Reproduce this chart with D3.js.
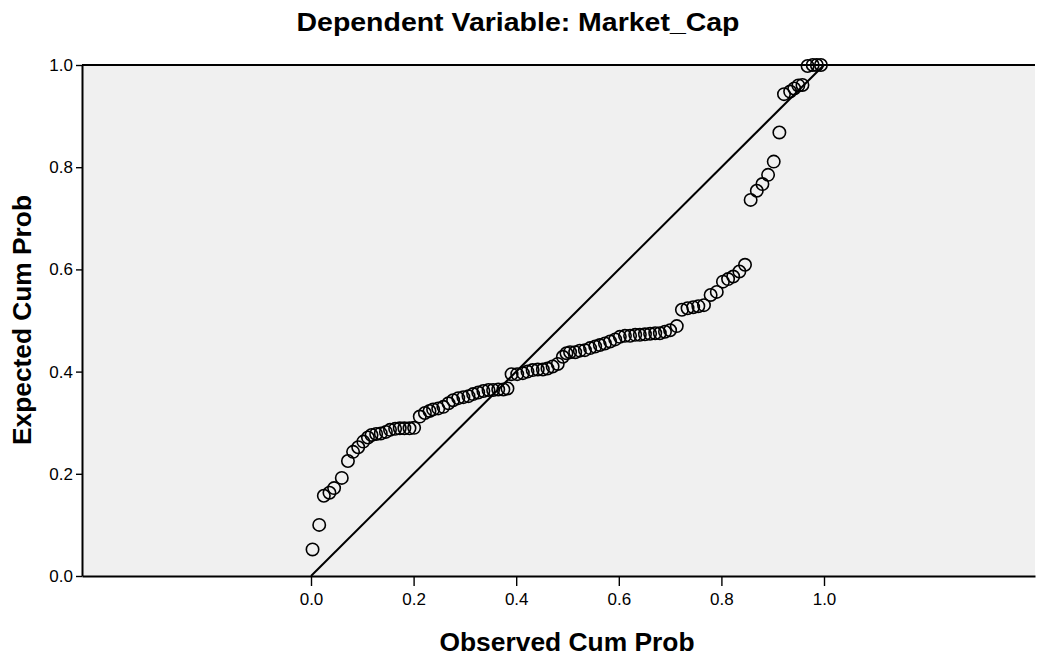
<!DOCTYPE html>
<html>
<head>
<meta charset="utf-8">
<script src="https://cdn.jsdelivr.net/npm/d3@7"></script>
<style>
  html, body { margin: 0; padding: 0; background: #ffffff; }
  svg { display: block; }
  text { font-family: "Liberation Sans", Arial, sans-serif; fill: #000; }
</style>
</head>
<body>
<svg id="chart" width="1043" height="661"></svg>
<script>
// ---- data ----
const titleText = "Dependent Variable: Market_Cap";
const xTitle = "Observed Cum Prob";
const yTitle = "Expected Cum Prob";
const tickValues = [0.0, 0.2, 0.4, 0.6, 0.8, 1.0];

const observedCumProb = [
  0.003, 0.016, 0.025, 0.036, 0.045, 0.060, 0.072, 0.082, 0.092, 0.102,
  0.111, 0.118, 0.127, 0.136, 0.146, 0.154, 0.164, 0.173, 0.182, 0.192,
  0.201, 0.212, 0.222, 0.231, 0.238, 0.248, 0.258, 0.268, 0.277, 0.287,
  0.297, 0.307, 0.316, 0.326, 0.336, 0.346, 0.355, 0.365, 0.375, 0.383,
  0.391, 0.402, 0.413, 0.422, 0.432, 0.442, 0.452, 0.461, 0.471, 0.481,
  0.491, 0.498, 0.505, 0.515, 0.524, 0.534, 0.544, 0.554, 0.563, 0.573,
  0.583, 0.593, 0.602, 0.612, 0.622, 0.632, 0.641, 0.651, 0.661, 0.671,
  0.680, 0.690, 0.700, 0.713, 0.723, 0.734, 0.745, 0.755, 0.766, 0.779,
  0.791, 0.803, 0.813, 0.823, 0.835, 0.846, 0.857, 0.869, 0.880, 0.891,
  0.902, 0.913, 0.922, 0.934, 0.942, 0.950, 0.958, 0.968, 0.978, 0.986,
  0.994
];
const expectedCumProb = [
  0.052, 0.100, 0.157, 0.163, 0.172, 0.192, 0.225, 0.243, 0.252, 0.263,
  0.271, 0.276, 0.278, 0.279, 0.282, 0.286, 0.288, 0.289, 0.289, 0.289,
  0.290, 0.312, 0.319, 0.323, 0.326, 0.328, 0.331, 0.338, 0.344, 0.348,
  0.350, 0.352, 0.356, 0.359, 0.362, 0.364, 0.364, 0.365, 0.365, 0.367,
  0.395, 0.395, 0.397, 0.400, 0.403, 0.404, 0.404, 0.406, 0.410, 0.415,
  0.429, 0.436, 0.438, 0.438, 0.441, 0.442, 0.446, 0.449, 0.452, 0.455,
  0.459, 0.463, 0.468, 0.470, 0.470, 0.472, 0.472, 0.473, 0.474, 0.475,
  0.475, 0.478, 0.481, 0.489, 0.521, 0.524, 0.526, 0.528, 0.530, 0.550,
  0.556, 0.576, 0.581, 0.586, 0.596, 0.609, 0.736, 0.754, 0.767, 0.785,
  0.811, 0.868, 0.943, 0.948, 0.954, 0.960, 0.961, 0.998, 1.000, 1.000,
  1.000
];
const referenceLine = [[0, 0], [1, 1]];

// ---- layout ----
const svg = d3.select("#chart");
const plot = { left: 82, right: 1035, top: 65, bottom: 576 };

const x = d3.scaleLinear().domain([-0.4464, 1.4113]).range([plot.left, plot.right]);
const y = d3.scaleLinear().domain([0, 1]).range([plot.bottom, plot.top]);

// plot background
svg.append("rect")
  .attr("x", plot.left).attr("y", plot.top)
  .attr("width", plot.right - plot.left).attr("height", plot.bottom - plot.top)
  .attr("fill", "#f0f0f0");

// top frame line
svg.append("line")
  .attr("x1", plot.left).attr("x2", plot.right)
  .attr("y1", plot.top).attr("y2", plot.top)
  .attr("stroke", "#000").attr("stroke-width", 2);

// reference diagonal
svg.append("path")
  .datum(referenceLine)
  .attr("d", d3.line().x(d => x(d[0])).y(d => y(d[1])))
  .attr("fill", "none").attr("stroke", "#000").attr("stroke-width", 2);

// points
const pts = observedCumProb.map((v, i) => ({ o: v, e: expectedCumProb[i] }));
svg.append("g").selectAll("circle")
  .data(pts).join("circle")
  .attr("cx", d => x(d.o)).attr("cy", d => y(d.e))
  .attr("r", 6.2)
  .attr("fill", "none").attr("stroke", "#000").attr("stroke-width", 1.6);

// axes
const xAxis = d3.axisBottom(x).tickValues(tickValues).tickFormat(d3.format(".1f"))
  .tickSizeInner(10).tickSizeOuter(0).tickPadding(7);
const gx = svg.append("g").attr("transform", `translate(0,${plot.bottom})`).call(xAxis);
gx.select(".domain").attr("stroke", "#000").attr("stroke-width", 2);
gx.selectAll(".tick line").attr("stroke", "#000").attr("stroke-width", 1.4);
gx.selectAll(".tick text").attr("font-size", 17).attr("font-family", "Liberation Sans, Arial, sans-serif");

const yAxis = d3.axisLeft(y).tickValues(tickValues).tickFormat(d3.format(".1f"))
  .tickSizeInner(6).tickSizeOuter(0).tickPadding(3);
const gy = svg.append("g").attr("transform", `translate(${plot.left},0)`).call(yAxis);
gy.select(".domain").attr("stroke", "#000").attr("stroke-width", 2);
gy.selectAll(".tick line").attr("stroke", "#000").attr("stroke-width", 1.4);
gy.selectAll(".tick text").attr("font-size", 17).attr("font-family", "Liberation Sans, Arial, sans-serif");

// titles
svg.append("text")
  .attr("x", 518).attr("y", 31)
  .attr("text-anchor", "middle")
  .attr("font-size", 26).attr("font-weight", "bold")
  .attr("textLength", 443).attr("lengthAdjust", "spacingAndGlyphs")
  .text(titleText);

svg.append("text")
  .attr("x", 567).attr("y", 651)
  .attr("text-anchor", "middle")
  .attr("font-size", 26).attr("font-weight", "bold")
  .attr("textLength", 255).attr("lengthAdjust", "spacingAndGlyphs")
  .text(xTitle);

svg.append("text")
  .attr("transform", "translate(31,320) rotate(-90)")
  .attr("text-anchor", "middle")
  .attr("font-size", 26).attr("font-weight", "bold")
  .attr("textLength", 250).attr("lengthAdjust", "spacingAndGlyphs")
  .text(yTitle);
</script>
</body>
</html>
